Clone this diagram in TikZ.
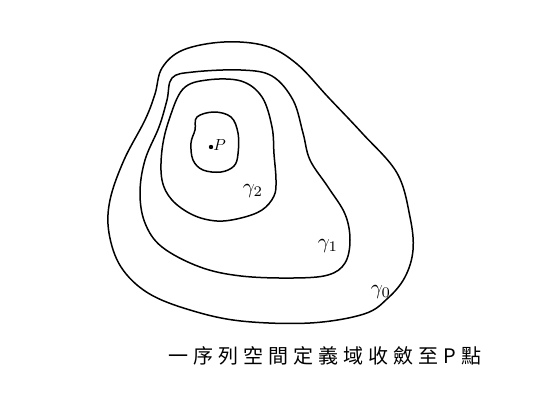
\documentclass[tikz,border=0pt]{standalone}
\usepackage{fontspec}
\newfontfamily\cjk[LetterSpace=25]{Noto Sans CJK TC}
\tikzset{
    % style for the nested curves
    kurve/.style={
           draw=black,
           line width=1.5pt},
    % style for the curve labels
    etikett/.style={
           scale=2.1,
           inner sep=0pt}
}
\begin{document}
\begin{tikzpicture}[x=1pt,y=-1pt]
  \useasboundingbox[fill=white] (0,0) rectangle (538,400);
  % gamma_0
  \draw[kurve] plot[smooth cycle,tension=0.6] coordinates {
    (183,50) (224,42) (266,46) (297,64) (328,97) (362,133) (397,173)
    (410,217) (413,250) (405,277) (388,298) (364,314) (310,323) (241,321)
    (190,310) (148,293) (121,267) (109,233) (110,200) (124,160) (145,120)
    (155,94) (162,68)};
  % gamma_1
  \draw[kurve] plot[smooth cycle,tension=0.6] coordinates {
    (172,78) (193,72) (241,70) (272,76) (293,100) (303,133) (310,160)
    (328,187) (345,214) (350,240) (345,263) (328,275) (293,278) (241,276)
    (200,267) (162,247) (145,223) (140,193) (145,160) (159,127) (167,100)};
  % gamma_2
  \draw[kurve] plot[smooth cycle,tension=0.6] coordinates {
    (183,89) (207,80) (241,81) (262,97) (272,127) (274,154) (276,180)
    (274,196) (262,210) (241,218) (217,221) (193,215) (172,200) (162,180)
    (162,150) (169,120)};
  % innermost
  \draw[kurve] plot[smooth cycle,tension=0.6] coordinates {
    (197,117) (214,112) (231,117) (238,133) (238,154) (234,166) (221,172)
    (203,170) (193,160) (191,143) (195,130)};
  \fill (211,147) circle (2.2);
  \node[inner sep=0pt,scale=1.6,right] (p) at (213,145) {$P$};
  \node[etikett] (g2) at (253,191) {$\gamma_2$};
  \node[etikett] (g1) at (328,246) {$\gamma_1$};
  \node[etikett] (g0) at (381,292) {$\gamma_0$};
  \node[inner sep=0pt,font=\cjk\fontsize{20}{24}\selectfont] (titel) at (325,356) {一序列空間定義域收斂至P點};
\end{tikzpicture}
\end{document}
